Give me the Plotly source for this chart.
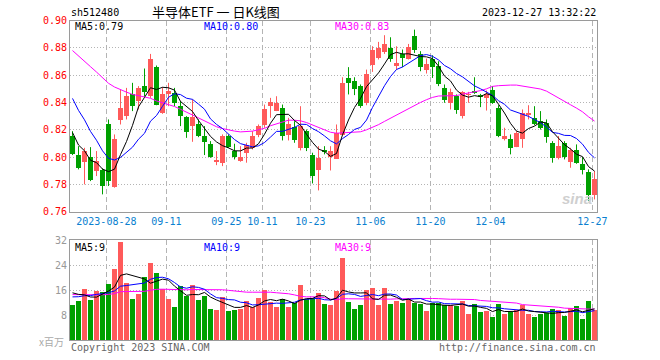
import plotly.graph_objects as go
import pandas as pd

# ---------------- data ----------------
opens = [0.8154, 0.8020, 0.7966, 0.8007, 0.7898, 0.7907, 0.8244, 0.7783, 0.8276, 0.8305,
         0.8463, 0.8415, 0.8527, 0.8451, 0.8661, 0.8324, 0.8463, 0.8470, 0.8380, 0.8295,
         0.8234, 0.8244, 0.8159, 0.8098, 0.7971, 0.7959, 0.8159, 0.8051, 0.7976, 0.8032,
         0.8068, 0.8166, 0.8239, 0.8378, 0.8344, 0.8366, 0.8166, 0.8227, 0.8073, 0.8195,
         0.8020, 0.7910, 0.8051, 0.8002, 0.7990, 0.8166, 0.8585, 0.8561, 0.8527, 0.8398,
         0.8678, 0.8732, 0.8776, 0.8805, 0.8671, 0.8756, 0.8722, 0.8893, 0.8756, 0.8641,
         0.8722, 0.8673, 0.8507, 0.8402, 0.8454, 0.8305, 0.8459, 0.8488, 0.8459, 0.8434,
         0.8495, 0.8366, 0.8141, 0.8137, 0.8080, 0.8137, 0.8312, 0.8293, 0.8268, 0.8251,
         0.8105, 0.8000, 0.8105, 0.7966, 0.8056, 0.7951, 0.7893, 0.7727]
highs = [0.8190, 0.8080, 0.8068, 0.8073, 0.8044, 0.7917, 0.8276, 0.8166, 0.8495, 0.8507,
         0.8544, 0.8520, 0.8649, 0.8756, 0.8671, 0.8512, 0.8544, 0.8507, 0.8410, 0.8300,
         0.8422, 0.8276, 0.8227, 0.8117, 0.8044, 0.8166, 0.8166, 0.8098, 0.8080, 0.8105,
         0.8190, 0.8239, 0.8385, 0.8434, 0.8446, 0.8385, 0.8288, 0.8263, 0.8373, 0.8202,
         0.8032, 0.8080, 0.8080, 0.8080, 0.8239, 0.8585, 0.8659, 0.8585, 0.8532, 0.8641,
         0.8812, 0.8844, 0.8893, 0.8878, 0.8812, 0.8788, 0.8829, 0.8934, 0.8776, 0.8722,
         0.8746, 0.8702, 0.8532, 0.8502, 0.8459, 0.8483, 0.8478, 0.8585, 0.8463, 0.8488,
         0.8520, 0.8380, 0.8215, 0.8166, 0.8190, 0.8349, 0.8380, 0.8373, 0.8337, 0.8276,
         0.8117, 0.8154, 0.8117, 0.8068, 0.8093, 0.8000, 0.7910, 0.7898]
lows = [0.8015, 0.7910, 0.7800, 0.7824, 0.7861, 0.7727, 0.7788, 0.7776, 0.8239, 0.8276,
        0.8337, 0.8349, 0.8446, 0.8434, 0.8380, 0.8317, 0.8373, 0.8373, 0.8227, 0.8141,
        0.8112, 0.8146, 0.8015, 0.7995, 0.7941, 0.7934, 0.8068, 0.7983, 0.7966, 0.7959,
        0.8056, 0.8146, 0.8215, 0.8288, 0.8337, 0.8122, 0.8122, 0.8105, 0.8049, 0.8044,
        0.7807, 0.7756, 0.8020, 0.7902, 0.7990, 0.8161, 0.8459, 0.8454, 0.8361, 0.8380,
        0.8624, 0.8715, 0.8756, 0.8698, 0.8641, 0.8659, 0.8715, 0.8763, 0.8629, 0.8612,
        0.8580, 0.8520, 0.8398, 0.8349, 0.8317, 0.8283, 0.8398, 0.8463, 0.8366, 0.8341,
        0.8390, 0.8146, 0.8122, 0.8020, 0.8073, 0.8068, 0.8276, 0.8234, 0.8202, 0.8105,
        0.7959, 0.7983, 0.7983, 0.7922, 0.7951, 0.7873, 0.7678, 0.7690]
closes = [0.8024, 0.7922, 0.8049, 0.7832, 0.7971, 0.7788, 0.7829, 0.8137, 0.8366, 0.8451,
          0.8380, 0.8507, 0.8483, 0.8720, 0.8385, 0.8463, 0.8488, 0.8398, 0.8305, 0.8185,
          0.8295, 0.8159, 0.8112, 0.8007, 0.7983, 0.8159, 0.8076, 0.8007, 0.8002, 0.8088,
          0.8159, 0.8232, 0.8356, 0.8405, 0.8402, 0.8161, 0.8244, 0.8129, 0.8232, 0.8073,
          0.7861, 0.8000, 0.8044, 0.8049, 0.8178, 0.8544, 0.8544, 0.8502, 0.8380, 0.8610,
          0.8788, 0.8805, 0.8829, 0.8722, 0.8695, 0.8727, 0.8812, 0.8788, 0.8661, 0.8685,
          0.8661, 0.8539, 0.8422, 0.8483, 0.8349, 0.8478, 0.8463, 0.8478, 0.8446, 0.8463,
          0.8398, 0.8154, 0.8154, 0.8068, 0.8178, 0.8324, 0.8322, 0.8244, 0.8215, 0.8149,
          0.8000, 0.8085, 0.8007, 0.8056, 0.7959, 0.7910, 0.7722, 0.7841]
volumes = [11.2, 12.5, 16.3, 12.8, 15.8, 15.5, 17.9, 22.7, 31.5, 18.2,
           13.1, 14.7, 20.2, 24.7, 21.5, 16.3, 13.1, 10.6, 17.3, 14.2,
           17.6, 12.8, 14.2, 9.9, 9.6, 13.8, 9.3, 9.6, 9.9, 12.5,
           10.7, 13.4, 16.0, 12.2, 10.6, 13.1, 10.6, 11.8, 17.6, 13.1,
           13.4, 15.0, 11.5, 11.2, 15.8, 26.2, 12.2, 9.9, 11.2, 16.0,
           16.6, 11.2, 16.6, 11.5, 12.5, 11.8, 13.1, 11.8, 11.5, 9.3,
           11.8, 11.8, 11.2, 11.2, 10.9, 12.5, 8.3, 11.5, 9.0, 9.3,
           7.4, 11.5, 8.3, 9.0, 9.6, 11.2, 8.3, 7.4, 8.3, 8.6,
           9.9, 9.6, 7.7, 10.2, 10.9, 6.7, 12.5, 9.6]

# sessions before the first visible one (estimated from where the MA lines start)
prior_closes = [0.918, 0.912, 0.905, 0.915, 0.908, 0.901,
                0.895, 0.902, 0.893, 0.887, 0.880, 0.884, 0.893, 0.897, 0.890, 0.883, 0.884,
                0.892, 0.889, 0.884,
                0.880, 0.874, 0.868, 0.862, 0.856,
                0.838, 0.826, 0.818, 0.8056]
prior_volumes = [14, 16, 13, 15, 17, 14, 15, 13, 16, 14, 15, 18, 14, 13, 15, 16, 14, 15, 16, 15,
                 12, 13, 12.5, 12, 13,
                 15, 17, 16.3, 16]

tick_index = [6, 16, 26, 32, 40, 50, 60, 70, 87]
tick_labels = ["2023-08-28", "09-11", "09-25", "10-11", "10-23", "11-06", "11-20", "12-04", "12-27"]

price_ticks = [0.76, 0.78, 0.80, 0.82, 0.84, 0.86, 0.88, 0.90]
vol_ticks = [8, 16, 24, 32]

# ---------------- derived ----------------
n = len(closes)
idx = list(range(n))
RED = "#ff5a5a"
GREEN = "#00a000"
up = [c >= o for o, c in zip(opens, closes)]
colors = [RED if u else GREEN for u in up]

npre = len(prior_closes)
cs = pd.Series(prior_closes + closes)
vs = pd.Series(prior_volumes + volumes)
ma = {k: cs.rolling(k).mean().iloc[npre:].tolist() for k in (5, 10, 30)}
vma = {k: vs.rolling(k).mean().iloc[npre:].tolist() for k in (5, 10, 30)}

W, H = 660, 360


def fx(px):
    return px / W


def fy(py):
    return 1 - py / H


X0, X1 = 70, 597
PY_TOP, PY_BOT = 20.6, 211.7
VY_TOP, VY_BOT = 240.0, 340.0
xr = [(X0 - 72.5) / 6.0, (X1 - 72.5) / 6.0]

fig = go.Figure()

# wicks
for flag, col in ((True, RED), (False, GREEN)):
    wx, wy = [], []
    for i in idx:
        if up[i] == flag:
            wx += [i, i, None]
            wy += [lows[i], highs[i], None]
    fig.add_trace(go.Scatter(x=wx, y=wy, mode="lines", line=dict(color=col, width=1),
                             xaxis="x", yaxis="y", hoverinfo="skip", showlegend=False))

# bodies
base = [min(o, c) for o, c in zip(opens, closes)]
hgt = [max(abs(c - o), 0.0006) for o, c in zip(opens, closes)]
fig.add_trace(go.Bar(x=idx, y=hgt, base=base, width=0.84, marker=dict(color=colors, line=dict(width=0)),
                     xaxis="x", yaxis="y", showlegend=False))

ma_cols = {5: "#000000", 10: "#0000ff", 30: "#ff00ff"}
for k in (30, 10, 5):
    fig.add_trace(go.Scatter(x=idx, y=ma[k], mode="lines", line=dict(color=ma_cols[k], width=1),
                             xaxis="x", yaxis="y", showlegend=False))

# volume
fig.add_trace(go.Bar(x=idx, y=volumes, width=0.84, marker=dict(color=colors, line=dict(width=0)),
                     xaxis="x2", yaxis="y2", showlegend=False))
for k in (30, 10, 5):
    fig.add_trace(go.Scatter(x=idx, y=vma[k], mode="lines", line=dict(color=ma_cols[k], width=1),
                             xaxis="x2", yaxis="y2", showlegend=False))

FONT = "DejaVu Sans Mono"
GRID = "#b4b4b4"
FRAME = "#9a9a9a"

xcommon = dict(range=xr, domain=[fx(X0), fx(X1)], tickmode="array", tickvals=[t - 0.35 for t in tick_index],
               showgrid=True, gridcolor=GRID, griddash="5px,3px", gridwidth=1, zeroline=False,
               showline=True, linecolor=FRAME, linewidth=1, mirror=True, ticks="", fixedrange=True,
               automargin=False)

fig.update_layout(
    width=W, height=H, margin=dict(l=0, r=0, t=0, b=0, autoexpand=False),
    paper_bgcolor="white", plot_bgcolor="white", barmode="overlay", bargap=0,
    showlegend=False,
    xaxis=dict(xcommon, anchor="y", ticktext=tick_labels,
               tickfont=dict(family=FONT, size=10, color="#0a7fd0")),
    xaxis2=dict(xcommon, anchor="y2", showticklabels=False),
    yaxis=dict(range=[0.76, 0.90], domain=[fy(PY_BOT), fy(PY_TOP)], tickmode="array",
               tickvals=price_ticks, ticktext=[f"{v:.2f}" for v in price_ticks],
               tickfont=dict(family=FONT, size=10, color="#ff0000"),
               showgrid=True, gridcolor=GRID, griddash="1px,2px", zeroline=False,
               showline=True, linecolor=FRAME, mirror=True, ticks="", fixedrange=True,
               automargin=False),
    yaxis2=dict(range=[0, 32], domain=[fy(VY_BOT), fy(VY_TOP)], tickmode="array",
                tickvals=vol_ticks, ticktext=[str(v) for v in vol_ticks],
                tickfont=dict(family=FONT, size=10, color="#999999"),
                showgrid=True, gridcolor=GRID, griddash="1px,2px", zeroline=False,
                showline=True, linecolor=FRAME, mirror=True, ticks="", fixedrange=True,
                automargin=False),
)


def txt(x, y, s, color="#000000", size=10, anchor="left", family=FONT):
    fig.add_annotation(x=fx(x), y=fy(y), xref="paper", yref="paper", text=s, showarrow=False,
                       xanchor=anchor, yanchor="middle", font=dict(family=family, size=size, color=color))


txt(69, 13, "sh512480")
txt(216, 12, "半导体ETF 一 日K线图", size=13, anchor="center", family="Noto Sans CJK SC")
txt(598, 13, "2023-12-27 13:32:22", anchor="right")
txt(73, 27, f"MA5:{ma[5][-1]:.2f}")
txt(202, 27, f"MA10:{ma[10][-1]:.2f}", color="#0000ff")
txt(333, 27, f"MA30:{ma[30][-1]:.2f}", color="#ff00ff")
txt(73, 247, "MA5:9")
txt(202, 247, "MA10:9", color="#0000ff")
txt(333, 247, "MA30:9", color="#ff00ff")
txt(66, 341, "x百万", color="#aaaaaa", anchor="right", family="Noto Sans CJK SC")
txt(69, 347, "Copyright 2023 SINA.COM", color="#666666")
txt(598, 347, "http://finance.sina.com.cn", color="#666666", anchor="right")
txt(594, 198, "<b><i>sina</i></b>", color="#cfcfcf", size=15, anchor="right", family="Liberation Sans")

# the page body has a default 8px margin; remove it so the 660x360 figure fills the window
fig.write_html("out.html", config={"displayModeBar": False},
               post_script="document.body.style.margin='0px';document.body.style.overflow='hidden';")
